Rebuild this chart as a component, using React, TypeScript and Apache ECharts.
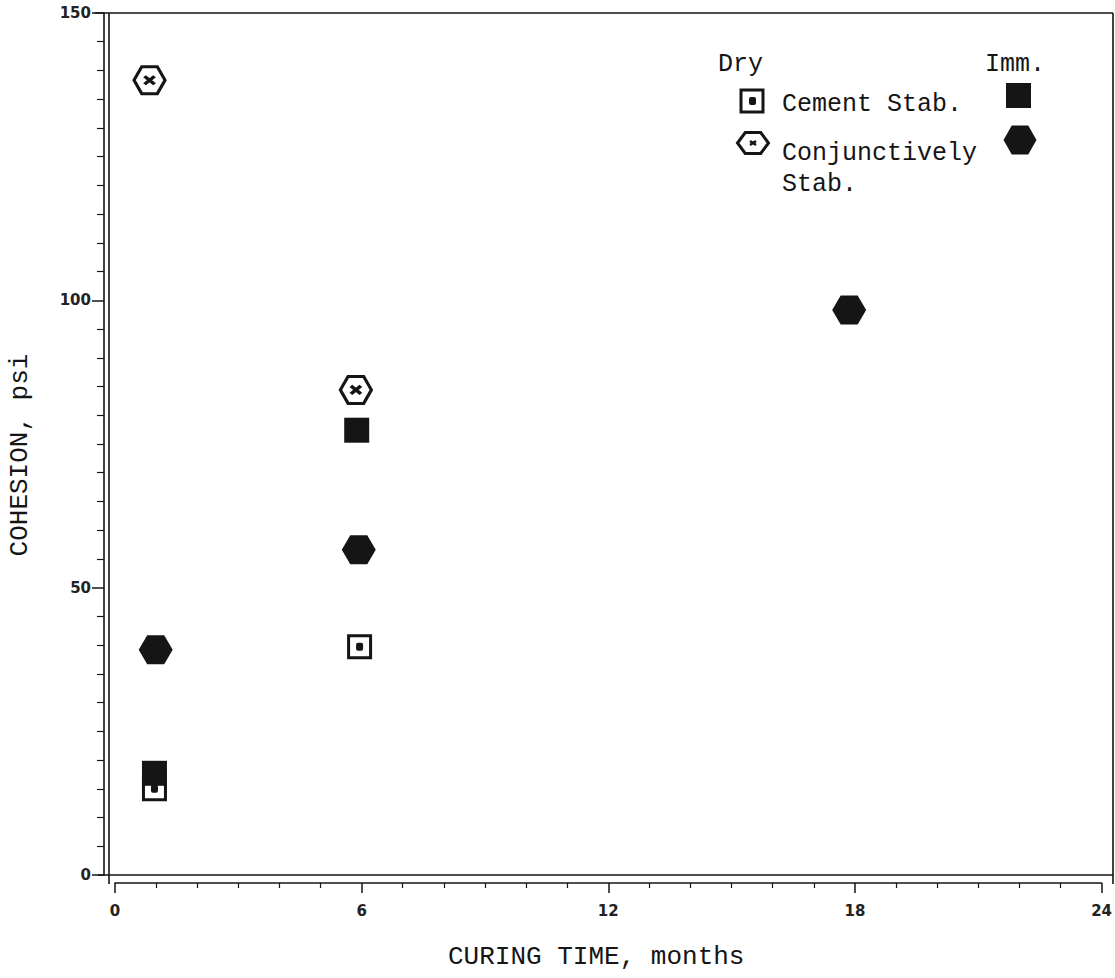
import React, { useEffect, useRef } from "react";
import * as echarts from "echarts";

// Data (x: curing time in months, y: cohesion in psi)
const dryCementX = [0.96, 5.95];
const dryCementY = [15.0, 39.7];
const immCementX = [0.96, 5.88];
const immCementY = [17.7, 77.4];
const dryConjX = [0.84, 5.86];
const dryConjY = [138.3, 84.4];
const immConjX = [0.99, 5.93, 17.86];
const immConjY = [39.2, 56.6, 98.3];

const xTitle = "CURING TIME, months";
const yTitle = "COHESION, psi";
const legendDry = "Dry";
const legendImm = "Imm.";
const legendCement = "Cement Stab.";
const legendConj1 = "Conjunctively";
const legendConj2 = "Stab.";

const INK = "#151515";
const HEX = "path://M0,50 L25,0 L75,0 L100,50 L75,100 L25,100 Z";
const XMARK = "path://M0,0 L10,10 M10,0 L0,10";
const MONO = "'Liberation Mono', 'DejaVu Sans Mono', monospace";
const TICKFONT = "'DejaVu Sans', sans-serif";

const zip = (xs: number[], ys: number[]) => xs.map((x, i) => [x, ys[i]]);

function hexPoints(cx: number, cy: number, w: number, h: number) {
  return [
    [cx - w / 2, cy],
    [cx - w / 4, cy - h / 2],
    [cx + w / 4, cy - h / 2],
    [cx + w / 2, cy],
    [cx + w / 4, cy + h / 2],
    [cx - w / 4, cy + h / 2],
  ];
}

const frameLine = (x1: number, y1: number, x2: number, y2: number) => ({
  type: "line",
  silent: true,
  shape: { x1, y1, x2, y2 },
  style: { stroke: INK, lineWidth: 1.6 },
});

export default function App() {
  const ref = useRef<HTMLDivElement>(null);
  useEffect(() => {
    if (!ref.current) return;
    const chart = echarts.init(ref.current, null, { renderer: "svg" });
    chart.setOption({
      animation: false,
      backgroundColor: "#fff",
      grid: { left: 115, right: 2, top: 13, bottom: 103, containLabel: false },
      xAxis: {
        type: "value",
        position: "bottom",
        offset: 8,
        min: 0,
        max: 24,
        interval: 6,
        axisLine: { show: true, onZero: false, lineStyle: { color: INK, width: 1.6 } },
        axisTick: { show: true, length: 10, lineStyle: { color: INK, width: 1.5 } },
        minorTick: { show: true, splitNumber: 6, length: 5, lineStyle: { color: INK, width: 1.2 } },
        axisLabel: { fontFamily: TICKFONT, fontSize: 15, fontWeight: "bold", color: "#222", margin: 20 },
        splitLine: { show: false },
      },
      yAxis: {
        type: "value",
        position: "left",
        offset: 11,
        min: 0,
        max: 150,
        interval: 50,
        axisLine: { show: true, onZero: false, lineStyle: { color: INK, width: 1.6 } },
        axisTick: { show: true, length: 12, lineStyle: { color: INK, width: 1.5 } },
        minorTick: { show: true, splitNumber: 10, length: 7, lineStyle: { color: INK, width: 1.2 } },
        axisLabel: { fontFamily: TICKFONT, fontSize: 15, fontWeight: "bold", color: "#222", margin: 13 },
        splitLine: { show: false },
      },
      series: [
        {
          name: "Dry Cement Stab.",
          type: "scatter",
          data: zip(dryCementX, dryCementY),
          symbol: "rect",
          symbolSize: 22,
          itemStyle: { color: "#fff", borderColor: INK, borderWidth: 3, opacity: 1 },
        },
        {
          name: "Dry Cement Stab. dot",
          type: "scatter",
          data: zip(dryCementX, dryCementY),
          symbol: "roundRect",
          symbolSize: [7, 8],
          itemStyle: { color: INK, opacity: 1 },
        },
        {
          name: "Imm. Cement Stab.",
          type: "scatter",
          data: zip(immCementX, immCementY),
          symbol: "rect",
          symbolSize: 25,
          itemStyle: { color: INK, opacity: 1 },
        },
        {
          name: "Dry Conjunctively Stab.",
          type: "scatter",
          data: zip(dryConjX, dryConjY),
          symbol: HEX,
          symbolSize: [31, 27],
          itemStyle: { color: "#fff", borderColor: INK, borderWidth: 3, opacity: 1 },
        },
        {
          name: "Dry Conjunctively Stab. x",
          type: "scatter",
          data: zip(dryConjX, dryConjY),
          symbol: XMARK,
          symbolSize: [10, 8],
          itemStyle: { color: "rgba(0,0,0,0)", borderColor: INK, borderWidth: 3.5, opacity: 1 },
        },
        {
          name: "Imm. Conjunctively Stab.",
          type: "scatter",
          data: zip(immConjX, immConjY),
          symbol: HEX,
          symbolSize: [34, 29],
          itemStyle: { color: INK, opacity: 1 },
        },
      ],
      graphic: [
        // frame and inner double lines
        frameLine(95, 13, 1113, 13),
        frameLine(1113, 13, 1113, 884),
        frameLine(98, 875, 1113, 875),
        frameLine(109, 13, 109, 884),
        // legend
        { type: "text", left: 718, top: 52, style: { text: legendDry, font: `25px ${MONO}`, fill: INK } },
        { type: "text", left: 985, top: 52, style: { text: legendImm, font: `25px ${MONO}`, fill: INK } },
        { type: "text", left: 782, top: 92, style: { text: legendCement, font: `25px ${MONO}`, fill: INK } },
        { type: "text", left: 782, top: 141, style: { text: legendConj1, font: `25px ${MONO}`, fill: INK } },
        { type: "text", left: 782, top: 172, style: { text: legendConj2, font: `25px ${MONO}`, fill: INK } },
        { type: "rect", shape: { x: 741, y: 90, width: 22, height: 22 }, style: { fill: "#fff", stroke: INK, lineWidth: 3 } },
        { type: "rect", shape: { x: 749, y: 97, width: 7, height: 8, r: 2 }, style: { fill: INK } },
        { type: "polygon", shape: { points: hexPoints(753, 143, 31, 21) }, style: { fill: "#fff", stroke: INK, lineWidth: 3 } },
        { type: "line", shape: { x1: 750, y1: 141, x2: 756, y2: 145 }, style: { stroke: INK, lineWidth: 2.5 } },
        { type: "line", shape: { x1: 756, y1: 141, x2: 750, y2: 145 }, style: { stroke: INK, lineWidth: 2.5 } },
        { type: "rect", shape: { x: 1006, y: 83, width: 25, height: 25 }, style: { fill: INK } },
        { type: "polygon", shape: { points: hexPoints(1020, 140, 33, 29) }, style: { fill: INK } },
        // axis titles
        { type: "text", left: 448, top: 944, style: { text: xTitle, font: `26px ${MONO}`, fill: INK } },
        {
          type: "text",
          x: 20,
          y: 455,
          rotation: Math.PI / 2,
          style: { text: yTitle, font: `26px ${MONO}`, fill: INK, align: "center", verticalAlign: "middle" },
        },
      ],
    });
    return () => chart.dispose();
  }, []);
  return (
    <div
      ref={ref}
      style={{ position: "fixed", left: 0, top: 0, width: 1115, height: 978, background: "#fff" }}
    />
  );
}
